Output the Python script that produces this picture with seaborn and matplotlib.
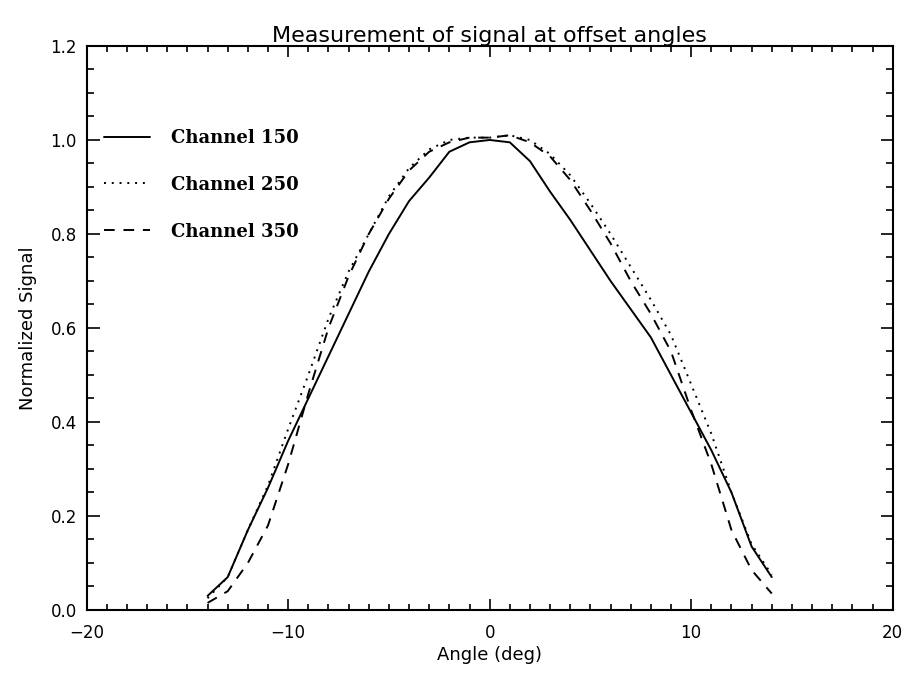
import numpy as np
import pandas as pd
import matplotlib
matplotlib.use("Agg")
import matplotlib.pyplot as plt
import seaborn as sns
from matplotlib.ticker import MultipleLocator, FormatStrFormatter

# ---- data ----
angles = list(range(-14, 15))
channels = ["Channel 150", "Channel 250", "Channel 350"]
ch150 = [0.03, 0.07, 0.17, 0.26, 0.36, 0.45, 0.54, 0.63, 0.72, 0.80, 0.87, 0.92, 0.975, 0.995, 1.00,
         0.995, 0.955, 0.89, 0.83, 0.765, 0.70, 0.64, 0.58, 0.50, 0.42, 0.34, 0.25, 0.135, 0.07]
ch250 = [0.025, 0.07, 0.17, 0.265, 0.385, 0.50, 0.62, 0.72, 0.80, 0.88, 0.94, 0.98, 1.0, 1.005, 1.005,
         1.01, 1.0, 0.97, 0.925, 0.865, 0.80, 0.73, 0.66, 0.585, 0.48, 0.375, 0.25, 0.14, 0.075]
ch350 = [0.015, 0.04, 0.10, 0.18, 0.31, 0.46, 0.60, 0.71, 0.80, 0.875, 0.935, 0.975, 0.995, 1.005, 1.005,
         1.01, 0.995, 0.965, 0.915, 0.85, 0.78, 0.70, 0.63, 0.55, 0.425, 0.31, 0.17, 0.085, 0.035]
x_ticks = [-20, -10, 0, 10, 20]
y_ticks = [0.0, 0.2, 0.4, 0.6, 0.8, 1.0, 1.2]

df = pd.DataFrame({
    "Angle": angles * 3,
    "Signal": ch150 + ch250 + ch350,
    "Channel": np.repeat(channels, len(angles)),
})

sns.set_theme(style="white")
plt.rcParams["font.family"] = ["DejaVu Sans"]
plt.rcParams["text.color"] = "black"
plt.rcParams["axes.labelcolor"] = "black"

fig = plt.figure(figsize=(9.18, 6.75), dpi=100)
ax = fig.add_axes([0.0944, 0.0963, 0.878, 0.8356])

sns.lineplot(
    data=df, x="Angle", y="Signal", hue="Channel", style="Channel",
    palette=["black"] * 3,
    dashes={"Channel 150": "", "Channel 250": (1, 3), "Channel 350": (5.5, 4.5)},
    linewidth=1.4, ax=ax, legend=True,
)

ax.set_xlim(-20, 20)
ax.set_ylim(0, 1.2)
ax.set_xticks(x_ticks)
ax.set_yticks(y_ticks)
ax.xaxis.set_minor_locator(MultipleLocator(1))
ax.yaxis.set_minor_locator(MultipleLocator(0.05))
ax.yaxis.set_major_formatter(FormatStrFormatter("%.1f"))

ax.tick_params(which="both", direction="in", top=True, right=True, bottom=True, left=True,
               colors="black", width=1.2)
ax.tick_params(axis="x", which="major", length=8, labelsize=12, pad=10)
ax.tick_params(axis="x", which="minor", length=4)
ax.tick_params(axis="y", which="major", length=9, labelsize=12, pad=7)
ax.tick_params(axis="y", which="minor", length=5)
for s in ax.spines.values():
    s.set_color("black")
    s.set_linewidth(1.5)

ax.set_title("Measurement of signal at offset angles", fontsize=16, pad=3, color="black")
ax.set_xlabel("Angle (deg)", fontsize=13, labelpad=3)
ax.set_ylabel("Normalized Signal", fontsize=13, labelpad=10)

handles, labels = ax.get_legend_handles_labels()
ax.legend(handles, labels, loc="upper left", bbox_to_anchor=(0.022, 0.853), frameon=False,
          prop={"family": "DejaVu Serif", "weight": "bold", "size": 13},
          handlelength=2.5, handletextpad=1.2, labelspacing=1.6, borderpad=0, borderaxespad=0)

fig.savefig("out.png", dpi=100, facecolor="white")
